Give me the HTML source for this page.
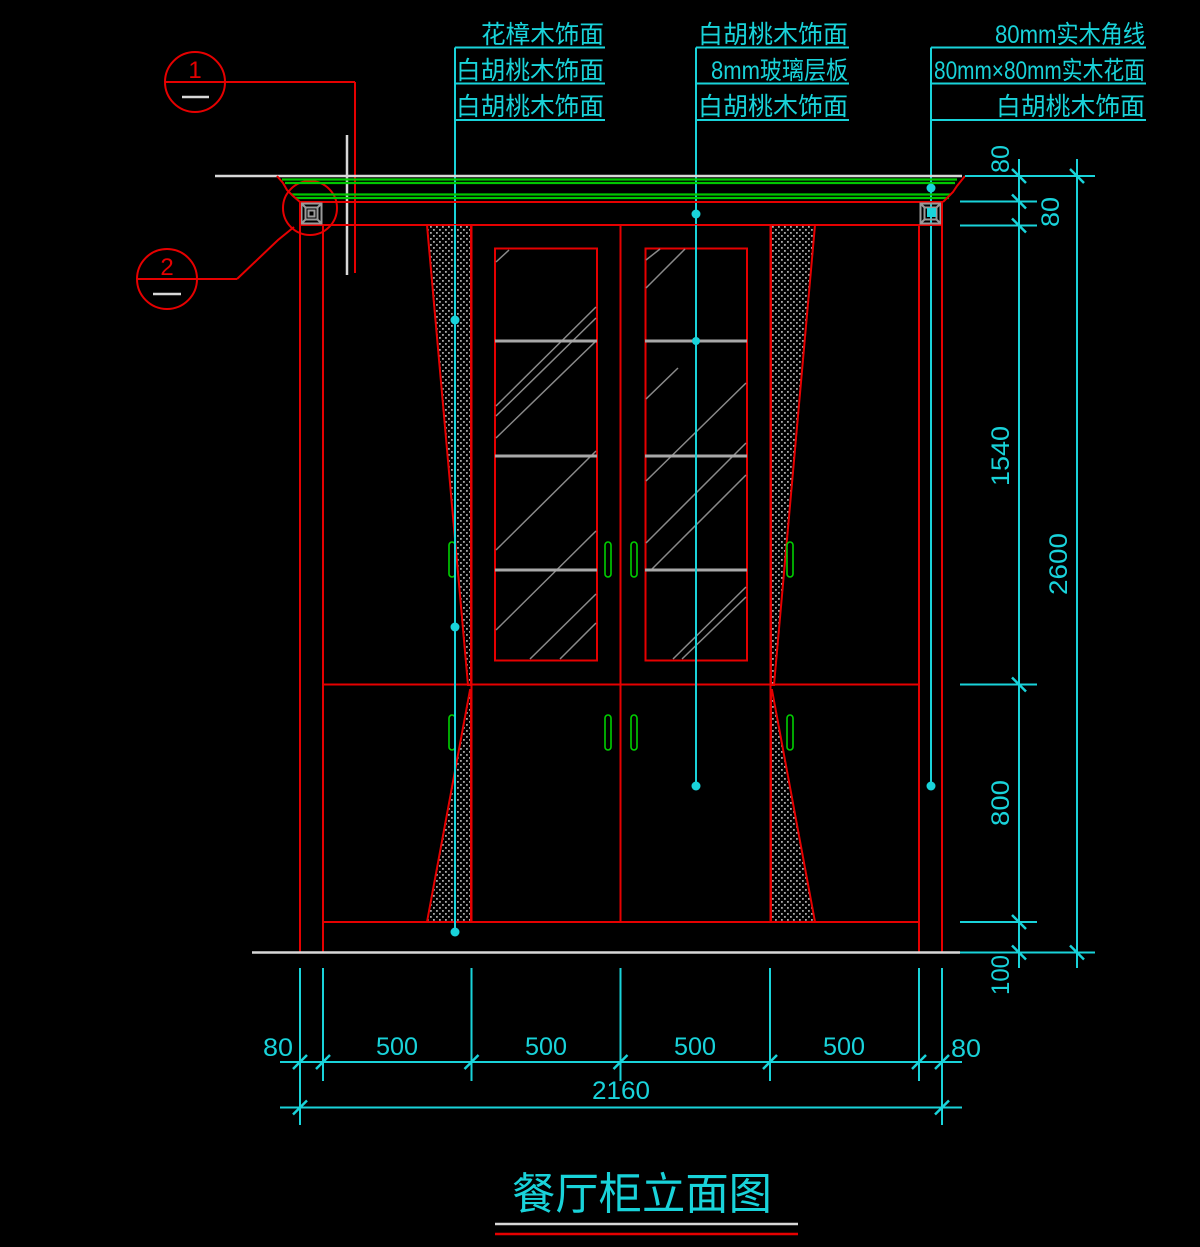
<!DOCTYPE html>
<html><head><meta charset="utf-8">
<style>
html,body{margin:0;padding:0;background:#000;}
svg{display:block;}
.cj{font-family:"Liberation Sans","Noto Sans CJK SC",sans-serif;fill:#19d3da;}
.num{font-family:"Liberation Sans",sans-serif;fill:#19d3da;font-size:25px;}
</style></head>
<body>
<svg width="1200" height="1247" viewBox="0 0 1200 1247" xmlns="http://www.w3.org/2000/svg">
<defs>
<pattern id="dots" width="6" height="6" patternUnits="userSpaceOnUse">
<rect x="1" y="1" width="1.8" height="1.8" fill="#a8a8a8"/>
<rect x="4" y="4" width="1.8" height="1.8" fill="#a8a8a8"/>
</pattern>
</defs>
<rect width="1200" height="1247" fill="#000"/>

<!-- ===== Top labels ===== -->
<g fill="none" stroke="#19d3da" stroke-width="2">
<line x1="455" y1="47.5" x2="605" y2="47.5"/>
<line x1="455" y1="83.5" x2="605" y2="83.5"/>
<line x1="455" y1="120" x2="605" y2="120"/>
<line x1="455" y1="47.5" x2="455" y2="932"/>
<line x1="696" y1="47.5" x2="849" y2="47.5"/>
<line x1="696" y1="83.5" x2="849" y2="83.5"/>
<line x1="696" y1="120" x2="849" y2="120"/>
<line x1="696" y1="47.5" x2="696" y2="786"/>
<line x1="931" y1="47.5" x2="1146" y2="47.5"/>
<line x1="931" y1="83.5" x2="1146" y2="83.5"/>
<line x1="931" y1="120" x2="1146" y2="120"/>
<line x1="931" y1="47.5" x2="931" y2="786"/>
</g>
<g class="cj" font-size="25">
<text x="481" y="43" textLength="123" lengthAdjust="spacingAndGlyphs">花樟木饰面</text>
<text x="456" y="79" textLength="148" lengthAdjust="spacingAndGlyphs">白胡桃木饰面</text>
<text x="456" y="115" textLength="148" lengthAdjust="spacingAndGlyphs">白胡桃木饰面</text>
<text x="698" y="43" textLength="150" lengthAdjust="spacingAndGlyphs">白胡桃木饰面</text>
<text x="711" y="79" textLength="137" lengthAdjust="spacingAndGlyphs">8mm玻璃层板</text>
<text x="698" y="115" textLength="150" lengthAdjust="spacingAndGlyphs">白胡桃木饰面</text>
<text x="995" y="43" textLength="150" lengthAdjust="spacingAndGlyphs">80mm实木角线</text>
<text x="934" y="79" textLength="211" lengthAdjust="spacingAndGlyphs">80mm×80mm实木花面</text>
<text x="996" y="115" textLength="149" lengthAdjust="spacingAndGlyphs">白胡桃木饰面</text>
</g>

<!-- ===== Callouts (left) ===== -->
<g fill="none" stroke="#e60000" stroke-width="2">
<circle cx="195" cy="82" r="30"/>
<line x1="165" y1="82" x2="355" y2="82"/>
<line x1="355" y1="82" x2="355" y2="273"/>
<circle cx="167" cy="279" r="30"/>
<line x1="137" y1="279" x2="237" y2="279"/>
<polyline points="237,279 278,240 294,227"/>
<circle cx="310" cy="208" r="27"/>
</g>
<text x="195" y="78" font-family="Liberation Sans,sans-serif" font-size="24" fill="#e60000" text-anchor="middle">1</text>
<text x="167" y="275" font-family="Liberation Sans,sans-serif" font-size="24" fill="#e60000" text-anchor="middle">2</text>
<g stroke="#d8d8d8" stroke-width="2.5">
<line x1="182" y1="97" x2="209" y2="97"/>
<line x1="153" y1="294" x2="181" y2="294"/>
<line x1="347" y1="135" x2="347" y2="275"/>
</g>

<!-- ===== Cornice ===== -->
<line x1="215" y1="176" x2="962" y2="176" stroke="#d8d8d8" stroke-width="2.5"/>
<g stroke="#00c800" stroke-width="2.2">
<line x1="282" y1="179.5" x2="957" y2="179.5"/>
<line x1="285" y1="183" x2="955" y2="183"/>
<line x1="291" y1="194.5" x2="951" y2="194.5"/>
<line x1="295" y1="198" x2="949" y2="198"/>
</g>
<g fill="none" stroke="#e60000" stroke-width="2">
<polyline points="277,176 283,183 287,190 293,196 300,202"/>
<polyline points="965,176 961,181 957,186 953,192 949,196 943,202"/>
<line x1="300" y1="202" x2="943" y2="202"/>
<line x1="300" y1="225" x2="943" y2="225"/>
</g>
<g fill="none" stroke="#9a9a9a" stroke-width="2">
<rect x="301.5" y="203.5" width="20" height="20"/>
<rect x="305.5" y="207.5" width="12" height="12"/>
<rect x="308.5" y="210.5" width="6" height="6"/>
<line x1="301.5" y1="203.5" x2="305.5" y2="207.5"/>
<line x1="321.5" y1="203.5" x2="317.5" y2="207.5"/>
<line x1="301.5" y1="223.5" x2="305.5" y2="219.5"/>
<line x1="321.5" y1="223.5" x2="317.5" y2="219.5"/>
<rect x="920.5" y="203.5" width="20" height="20"/>
<rect x="924.5" y="207.5" width="12" height="12"/>
<line x1="920.5" y1="203.5" x2="924.5" y2="207.5"/>
<line x1="940.5" y1="203.5" x2="936.5" y2="207.5"/>
<line x1="920.5" y1="223.5" x2="924.5" y2="219.5"/>
<line x1="940.5" y1="223.5" x2="936.5" y2="219.5"/>
</g>
<rect x="927" y="208" width="9" height="9" fill="#19d3da"/>

<!-- ===== Curtains ===== -->
<g fill="url(#dots)" stroke="#e60000" stroke-width="2">
<polygon points="427,225 471,225 471,685 468,685"/>
<polygon points="815,225 771,225 771,685 774,685"/>
<polygon points="470,690 471,690 471,922 427,922"/>
<polygon points="771,690 772,690 815,922 771,922"/>
</g>

<!-- ===== Cabinet body ===== -->
<g fill="none" stroke="#e60000" stroke-width="2">
<line x1="300" y1="202" x2="300" y2="953"/>
<line x1="323" y1="225" x2="323" y2="953"/>
<line x1="919" y1="225" x2="919" y2="953"/>
<line x1="942" y1="202" x2="942" y2="953"/>
<line x1="323" y1="684.5" x2="919" y2="684.5"/>
<line x1="323" y1="922" x2="919" y2="922"/>
<line x1="620.5" y1="225" x2="620.5" y2="922"/>
<line x1="471.5" y1="225" x2="471.5" y2="922"/>
<line x1="770.5" y1="225" x2="770.5" y2="922"/>
<rect x="495" y="248.5" width="102" height="412"/>
<rect x="645.5" y="248.5" width="101.5" height="412"/>
</g>
<g stroke="#8a8a8a" stroke-width="1.5">
<line x1="496" y1="262" x2="509" y2="250"/>
<line x1="496" y1="406" x2="596" y2="307"/>
<line x1="496" y1="416" x2="596" y2="318"/>
<line x1="496" y1="438" x2="596" y2="341"/>
<line x1="496" y1="550" x2="596" y2="451"/>
<line x1="496" y1="630" x2="596" y2="531"/>
<line x1="530" y1="659" x2="596" y2="594"/>
<line x1="560" y1="659" x2="596" y2="623"/>
<line x1="646" y1="260" x2="660" y2="249"/>
<line x1="646" y1="288" x2="685" y2="249"/>
<line x1="646" y1="399" x2="678" y2="368"/>
<line x1="646" y1="481" x2="746" y2="383"/>
<line x1="646" y1="543" x2="746" y2="443"/>
<line x1="651" y1="570" x2="746" y2="475"/>
<line x1="673" y1="659" x2="746" y2="587"/>
<line x1="682" y1="659" x2="746" y2="597"/>
</g>
<g stroke="#a8a8a8" stroke-width="3">
<line x1="495" y1="341" x2="597" y2="341"/>
<line x1="495" y1="456" x2="597" y2="456"/>
<line x1="495" y1="570" x2="597" y2="570"/>
<line x1="645" y1="341" x2="747" y2="341"/>
<line x1="645" y1="456" x2="747" y2="456"/>
<line x1="645" y1="570" x2="747" y2="570"/>
</g>
<g fill="none" stroke="#00d000" stroke-width="1.6">
<rect x="449" y="542" width="6" height="35" rx="3"/>
<rect x="605" y="542" width="6" height="35" rx="3"/>
<rect x="631" y="542" width="6" height="35" rx="3"/>
<rect x="787" y="542" width="6" height="35" rx="3"/>
<rect x="449" y="715" width="6" height="35" rx="3"/>
<rect x="605" y="715" width="6" height="35" rx="3"/>
<rect x="631" y="715" width="6" height="35" rx="3"/>
<rect x="787" y="715" width="6" height="35" rx="3"/>
</g>
<g stroke="#19d3da" stroke-width="2">
<line x1="455" y1="225" x2="455" y2="932"/>
<line x1="696" y1="225" x2="696" y2="786"/>
</g>
<g fill="#19d3da">
<circle cx="455" cy="320" r="4.5"/>
<circle cx="455" cy="627" r="4.5"/>
<circle cx="455" cy="932" r="4.5"/>
<circle cx="696" cy="214" r="4.5"/>
<circle cx="696" cy="341" r="4"/>
<circle cx="696" cy="786" r="4.5"/>
<circle cx="931" cy="188" r="4.5"/>
<circle cx="931" cy="786" r="4.5"/>
</g>

<line x1="252" y1="952.5" x2="960" y2="952.5" stroke="#d8d8d8" stroke-width="2.5"/>

<!-- ===== Right dimensions ===== -->
<g stroke="#19d3da" stroke-width="2" fill="none">
<line x1="965" y1="176" x2="1095" y2="176"/>
<line x1="960" y1="201.5" x2="1037" y2="201.5"/>
<line x1="960" y1="225.5" x2="1037" y2="225.5"/>
<line x1="960" y1="684.5" x2="1037" y2="684.5"/>
<line x1="960" y1="922" x2="1037" y2="922"/>
<line x1="960" y1="952.5" x2="1095" y2="952.5"/>
<line x1="1019" y1="159" x2="1019" y2="968"/>
<line x1="1077" y1="159" x2="1077" y2="968"/>
</g>
<g stroke="#19d3da" stroke-width="2.5">
<line x1="1012" y1="169" x2="1026" y2="183"/>
<line x1="1012" y1="194.5" x2="1026" y2="208.5"/>
<line x1="1012" y1="218.5" x2="1026" y2="232.5"/>
<line x1="1012" y1="677.5" x2="1026" y2="691.5"/>
<line x1="1012" y1="915" x2="1026" y2="929"/>
<line x1="1012" y1="945.5" x2="1026" y2="959.5"/>
<line x1="1070" y1="169" x2="1084" y2="183"/>
<line x1="1070" y1="945.5" x2="1084" y2="959.5"/>
</g>
<g class="num" text-anchor="middle">
<text transform="translate(1009,159) rotate(-90)" textLength="28" lengthAdjust="spacingAndGlyphs">80</text>
<text transform="translate(1059,212) rotate(-90)" textLength="30" lengthAdjust="spacingAndGlyphs">80</text>
<text transform="translate(1009,456) rotate(-90)" textLength="60" lengthAdjust="spacingAndGlyphs">1540</text>
<text transform="translate(1009,803) rotate(-90)" textLength="46" lengthAdjust="spacingAndGlyphs">800</text>
<text transform="translate(1009,975) rotate(-90)" textLength="40" lengthAdjust="spacingAndGlyphs">100</text>
<text transform="translate(1067,564) rotate(-90)" textLength="62" lengthAdjust="spacingAndGlyphs">2600</text>
</g>

<!-- ===== Bottom dimensions ===== -->
<g stroke="#19d3da" stroke-width="2" fill="none">
<line x1="300" y1="968" x2="300" y2="1125"/>
<line x1="323" y1="968" x2="323" y2="1081"/>
<line x1="471.5" y1="968" x2="471.5" y2="1081"/>
<line x1="620.5" y1="968" x2="620.5" y2="1081"/>
<line x1="770" y1="968" x2="770" y2="1081"/>
<line x1="919" y1="968" x2="919" y2="1081"/>
<line x1="942" y1="968" x2="942" y2="1125"/>
<line x1="280" y1="1062" x2="962" y2="1062"/>
<line x1="280" y1="1107.5" x2="962" y2="1107.5"/>
</g>
<g stroke="#19d3da" stroke-width="2.5">
<line x1="293" y1="1069" x2="307" y2="1055"/>
<line x1="316" y1="1069" x2="330" y2="1055"/>
<line x1="464.5" y1="1069" x2="478.5" y2="1055"/>
<line x1="613.5" y1="1069" x2="627.5" y2="1055"/>
<line x1="763" y1="1069" x2="777" y2="1055"/>
<line x1="912" y1="1069" x2="926" y2="1055"/>
<line x1="935" y1="1069" x2="949" y2="1055"/>
<line x1="293" y1="1114.5" x2="307" y2="1100.5"/>
<line x1="935" y1="1114.5" x2="949" y2="1100.5"/>
</g>
<g class="num">
<text x="263" y="1056" textLength="30" lengthAdjust="spacingAndGlyphs">80</text>
<text x="376" y="1055" textLength="42" lengthAdjust="spacingAndGlyphs">500</text>
<text x="525" y="1055" textLength="42" lengthAdjust="spacingAndGlyphs">500</text>
<text x="674" y="1055" textLength="42" lengthAdjust="spacingAndGlyphs">500</text>
<text x="823" y="1055" textLength="42" lengthAdjust="spacingAndGlyphs">500</text>
<text x="951" y="1057" textLength="30" lengthAdjust="spacingAndGlyphs">80</text>
<text x="592" y="1099" textLength="58" lengthAdjust="spacingAndGlyphs">2160</text>
</g>

<!-- ===== Title ===== -->
<text x="512" y="1209" class="cj" font-size="44" textLength="260" lengthAdjust="spacingAndGlyphs">餐厅柜立面图</text>
<line x1="495" y1="1224" x2="798" y2="1224" stroke="#d8d8d8" stroke-width="2.5"/>
<line x1="495" y1="1234" x2="798" y2="1234" stroke="#e60000" stroke-width="2.5"/>
</svg>
</body></html>
